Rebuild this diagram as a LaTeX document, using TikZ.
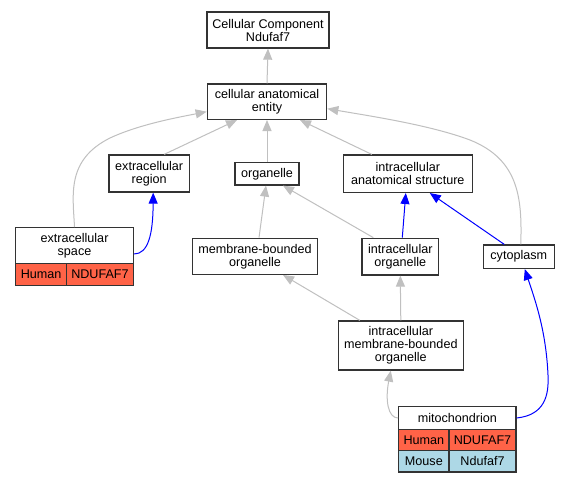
\documentclass[tikz,border=0pt]{standalone}
\usepackage{fontspec}
\setmainfont{Liberation Sans}
\usetikzlibrary{arrows.meta,calc}
\definecolor{boxline}{HTML}{333333}
\definecolor{edgegray}{HTML}{C0C0C0}
\definecolor{tomatored}{HTML}{FF6347}
\definecolor{lblue}{HTML}{ADD8E6}
\begin{document}
\begin{tikzpicture}[x=1pt,y=-1pt,
  box/.style={draw=boxline,line width=1.3pt,fill=white,inner sep=0pt,align=center,
    font=\fontsize{12.6}{13}\selectfont},
  garrow/.style={draw=edgegray,line width=1pt,-{Triangle[length=11pt,width=9pt]}},
  barrow/.style={draw=blue,line width=1pt,-{Triangle[length=11pt,width=9pt]}},
]
\useasboundingbox[fill=white] (0,0) rectangle (571,483);

% nodes
\node[box,minimum width=122pt,minimum height=36pt] (top) at (268,30) {Cellular Component\\Ndufaf7};
\node[box,minimum width=119.4pt,minimum height=35.3pt] (cae) at (267,101.7) {cellular anatomical\\entity};
\node[box,minimum width=80.3pt,minimum height=37pt] (er) at (149.2,173.5) {extracellular\\region};
\node[box,minimum width=64pt,minimum height=22.3pt] (org) at (267,173.8) {organelle};
\node[box,minimum width=129pt,minimum height=37.3pt] (ias) at (407.8,173.7) {intracellular\\anatomical structure};
\node[box,minimum width=117.6pt,minimum height=35.6pt] (es) at (74.5,245.5) {extracellular\\space};
\node[box,minimum width=51pt,minimum height=22pt,fill=tomatored] (esH) at (41.2,274.3) {Human};
\node[box,minimum width=66.6pt,minimum height=22pt,fill=tomatored] (esG) at (100,274.3) {NDUFAF7};
\node[box,minimum width=124.6pt,minimum height=36pt] (mbo) at (255,256.3) {membrane-bounded\\organelle};
\node[box,minimum width=76.7pt,minimum height=36.7pt] (io) at (400.3,256.6) {intracellular\\organelle};
\node[box,minimum width=71pt,minimum height=23.3pt] (cyt) at (518.8,256.7) {cytoplasm};
\node[box,minimum width=125pt,minimum height=49pt] (imbo) at (400.8,345.5) {intracellular\\membrane-bounded\\organelle};
\node[box,minimum width=117.3pt,minimum height=22.6pt] (mt) at (457.35,418) {mitochondrion};
\node[box,minimum width=50.3pt,minimum height=21.4pt,fill=tomatored] (mtH) at (423.85,440) {Human};
\node[box,minimum width=67pt,minimum height=21.4pt,fill=tomatored] (mtG) at (482.5,440) {NDUFAF7};
\node[box,minimum width=50.3pt,minimum height=21.3pt,fill=lblue] (mtM) at (423.85,461.35) {Mouse};
\node[box,minimum width=67pt,minimum height=21.3pt,fill=lblue] (mtMg) at (482.5,461.35) {Ndufaf7};

% edges
\draw[garrow] (cae.north) -- (top.south);
\draw[garrow] ($(er.north)+(15,0)$) -- ($(cae.south)+(-30,0)$);
\draw[garrow] (org.north) -- (cae.south);
\draw[garrow] ($(ias.north)+(-36,0)$) -- ($(cae.south)+(33,0)$);
\draw[garrow] (es.north) .. controls (73,195) and (66,160) .. (110,138)
  .. controls (140,124) and (180,117) .. ($(cae.west)+(0,10)$);
\draw[garrow] ($(cyt.north)+(2,0)$) .. controls (522,200) and (520,160) .. (470,140)
  .. controls (430,125) and (370,116) .. ($(cae.east)+(0,7)$);
\draw[barrow] ($(es.east)+(0,8.5)$) .. controls (148,254) and (153,235) .. ($(er.south)+(4,0)$);
\draw[garrow] ($(mbo.north)+(4,0)$) -- ($(org.south)+(-1,0)$);
\draw[garrow] ($(io.north)+(-27,0)$) -- ($(org.south)+(16,0)$);
\draw[barrow] ($(io.north)+(2,0)$) -- ($(ias.south)+(-2,0)$);
\draw[barrow] ($(cyt.north)+(-14.5,0)$) -- ($(ias.south)+(22,0)$);
\draw[garrow] ($(imbo.north)+(-41,0)$) -- ($(mbo.south)+(28,0)$);
\draw[garrow] (imbo.north) -- (io.south);
\draw[garrow] (mt.west) .. controls (388,418) and (385,400) .. ($(imbo.south)+(-10,0)$);
\draw[barrow] (mt.east) .. controls (545,415) and (549,395) .. (548,375)
  .. controls (546,330) and (535,300) .. ($(cyt.south)+(6,0)$);
\end{tikzpicture}
\end{document}
